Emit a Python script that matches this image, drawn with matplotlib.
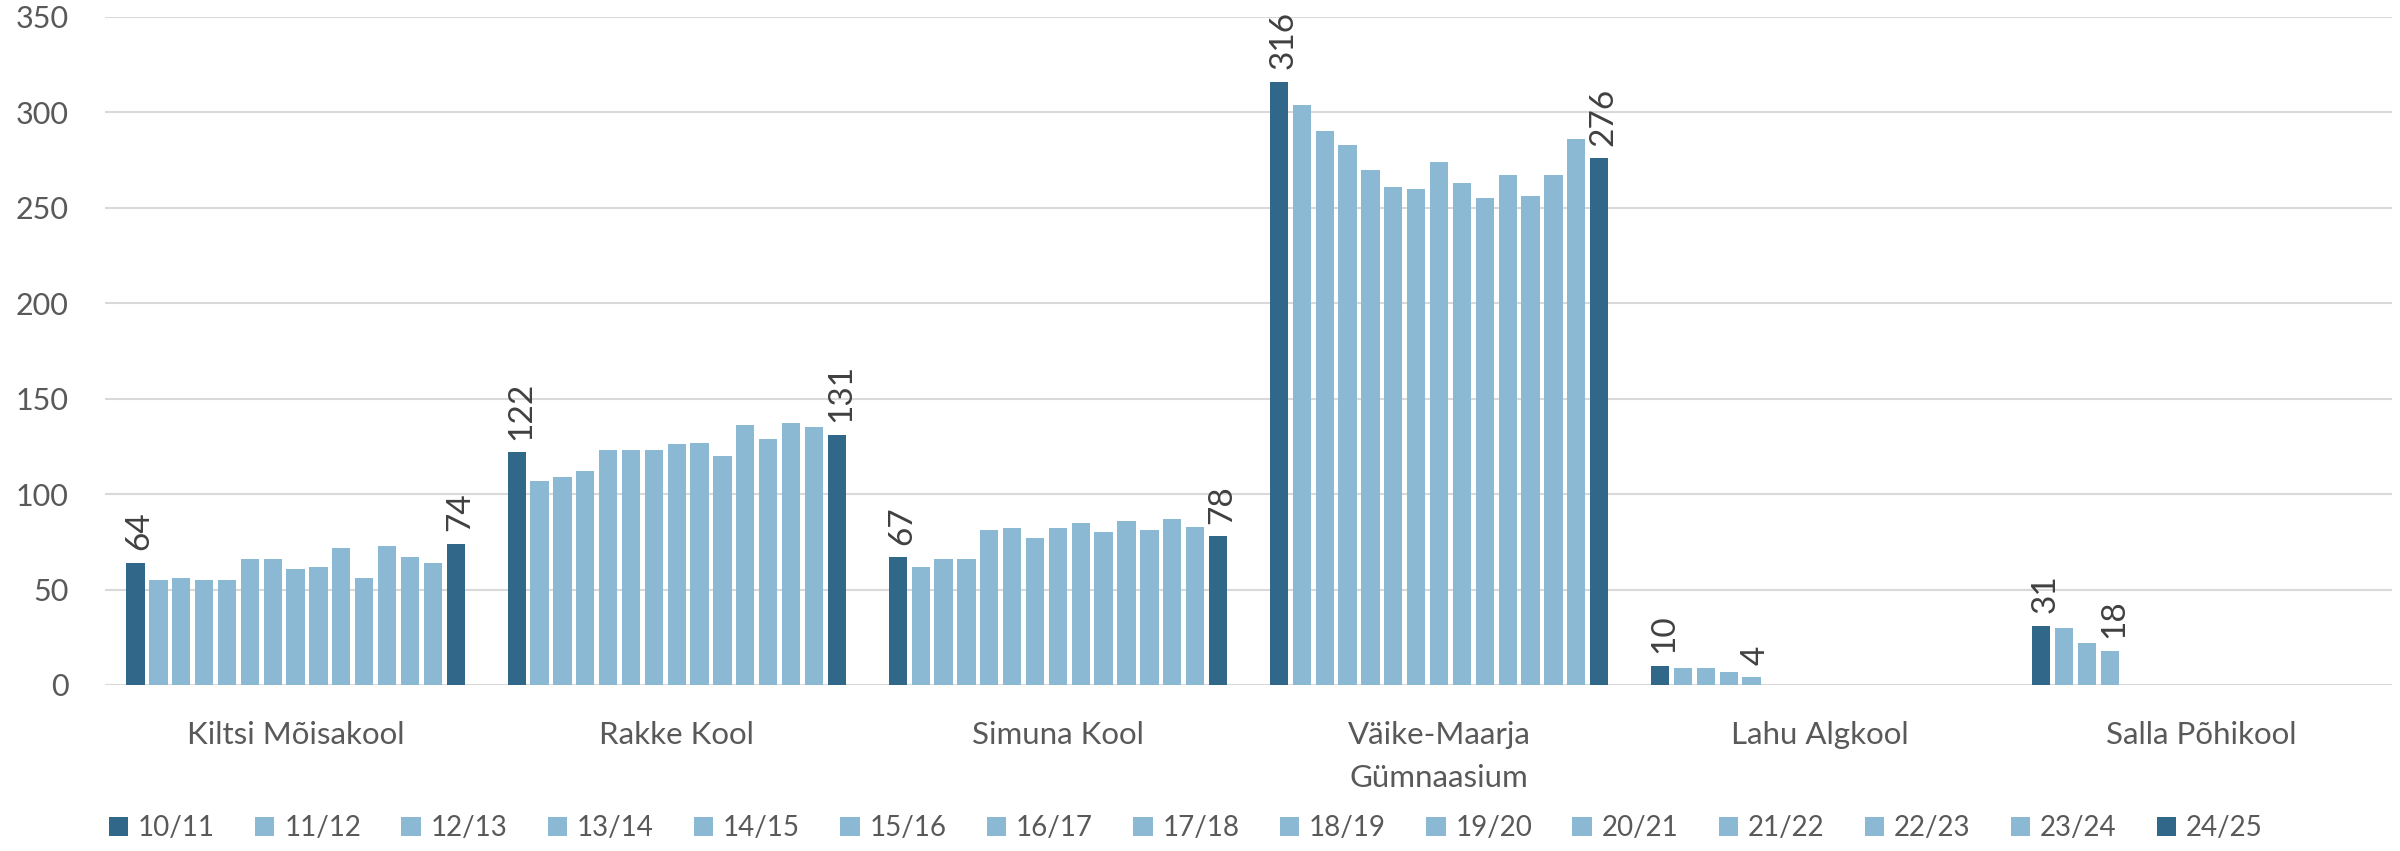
import numpy as np
import matplotlib.pyplot as plt

# schools (x categories) and school years (series)
schools = ["Kiltsi Mõisakool", "Rakke Kool", "Simuna Kool",
           "Väike-Maarja\nGümnaasium", "Lahu Algkool", "Salla Põhikool"]
years = ["10/11", "11/12", "12/13", "13/14", "14/15", "15/16", "16/17", "17/18",
         "18/19", "19/20", "20/21", "21/22", "22/23", "23/24", "24/25"]

# pupils per school, one list per school, one value per year (nan = school closed)
nan = np.nan
kiltsi = [64, 55, 56, 55, 55, 66, 66, 61, 62, 72, 56, 73, 67, 64, 74]
rakke = [122, 107, 109, 112, 123, 123, 123, 126, 127, 120, 136, 129, 137, 135, 131]
simuna = [67, 62, 66, 66, 81, 82, 77, 82, 85, 80, 86, 81, 87, 83, 78]
vaike_maarja = [316, 304, 290, 283, 270, 261, 260, 274, 263, 255, 267, 256, 267, 286, 276]
lahu = [10, 9, 9, 7, 4] + [nan] * 10
salla = [31, 30, 22, 18] + [nan] * 11

data = np.array([kiltsi, rakke, simuna, vaike_maarja, lahu, salla])

dark = "#31688a"
light = "#8bb9d4"
txt = "#595959"
font = ["Lato", "DejaVu Sans"]
plt.rcParams['font.family'] = font

fig = plt.figure(figsize=(24, 8.51), dpi=100)
ax = fig.add_axes([0.04375, 0.1951, 0.9529, 0.785])

n = len(years)
slot = 0.9 / n
x = np.arange(len(schools))
for i, yr in enumerate(years):
    col = dark if i in (0, n - 1) else light
    pos = x - 0.45 + slot * (i + 0.5)
    ax.bar(pos, data[:, i], width=slot * 0.8, color=col, label=yr, zorder=3)

# value labels on first and last available year of every school
for g in range(len(schools)):
    vals = data[g]
    idx = np.where(~np.isnan(vals))[0]
    for i in (idx[0], idx[-1]):
        pos = x[g] - 0.45 + slot * (i + 0.5)
        ax.annotate(f"{int(vals[i])}", (pos, vals[i]), xytext=(3, 9),
                    textcoords="offset points", rotation=90, ha="center",
                    va="bottom", fontsize=24, color="#404040")

ax.set_xlim(-0.5, len(schools) - 0.5)
ax.set_ylim(0, 350)
ax.set_yticks(range(0, 351, 50))
ax.set_xticks(x)
ax.set_xticklabels(schools, linespacing=1.65)
ax.tick_params(axis="y", length=0, pad=26, labelsize=22, labelcolor=txt)
ax.tick_params(axis="x", length=0, pad=26, labelsize=22.5, labelcolor=txt)
ax.grid(axis="y", color="#d9d9d9", linewidth=1.5, zorder=0)
for s in ax.spines.values():
    s.set_visible(False)

fig.legend(loc="center", bbox_to_anchor=(0.494, 0.027), ncol=n, frameon=False,
           fontsize=20, labelcolor=txt, handlelength=0.7, handleheight=0.7,
           handletextpad=0.35, columnspacing=1.45)

fig.savefig("out.png", dpi=100)
